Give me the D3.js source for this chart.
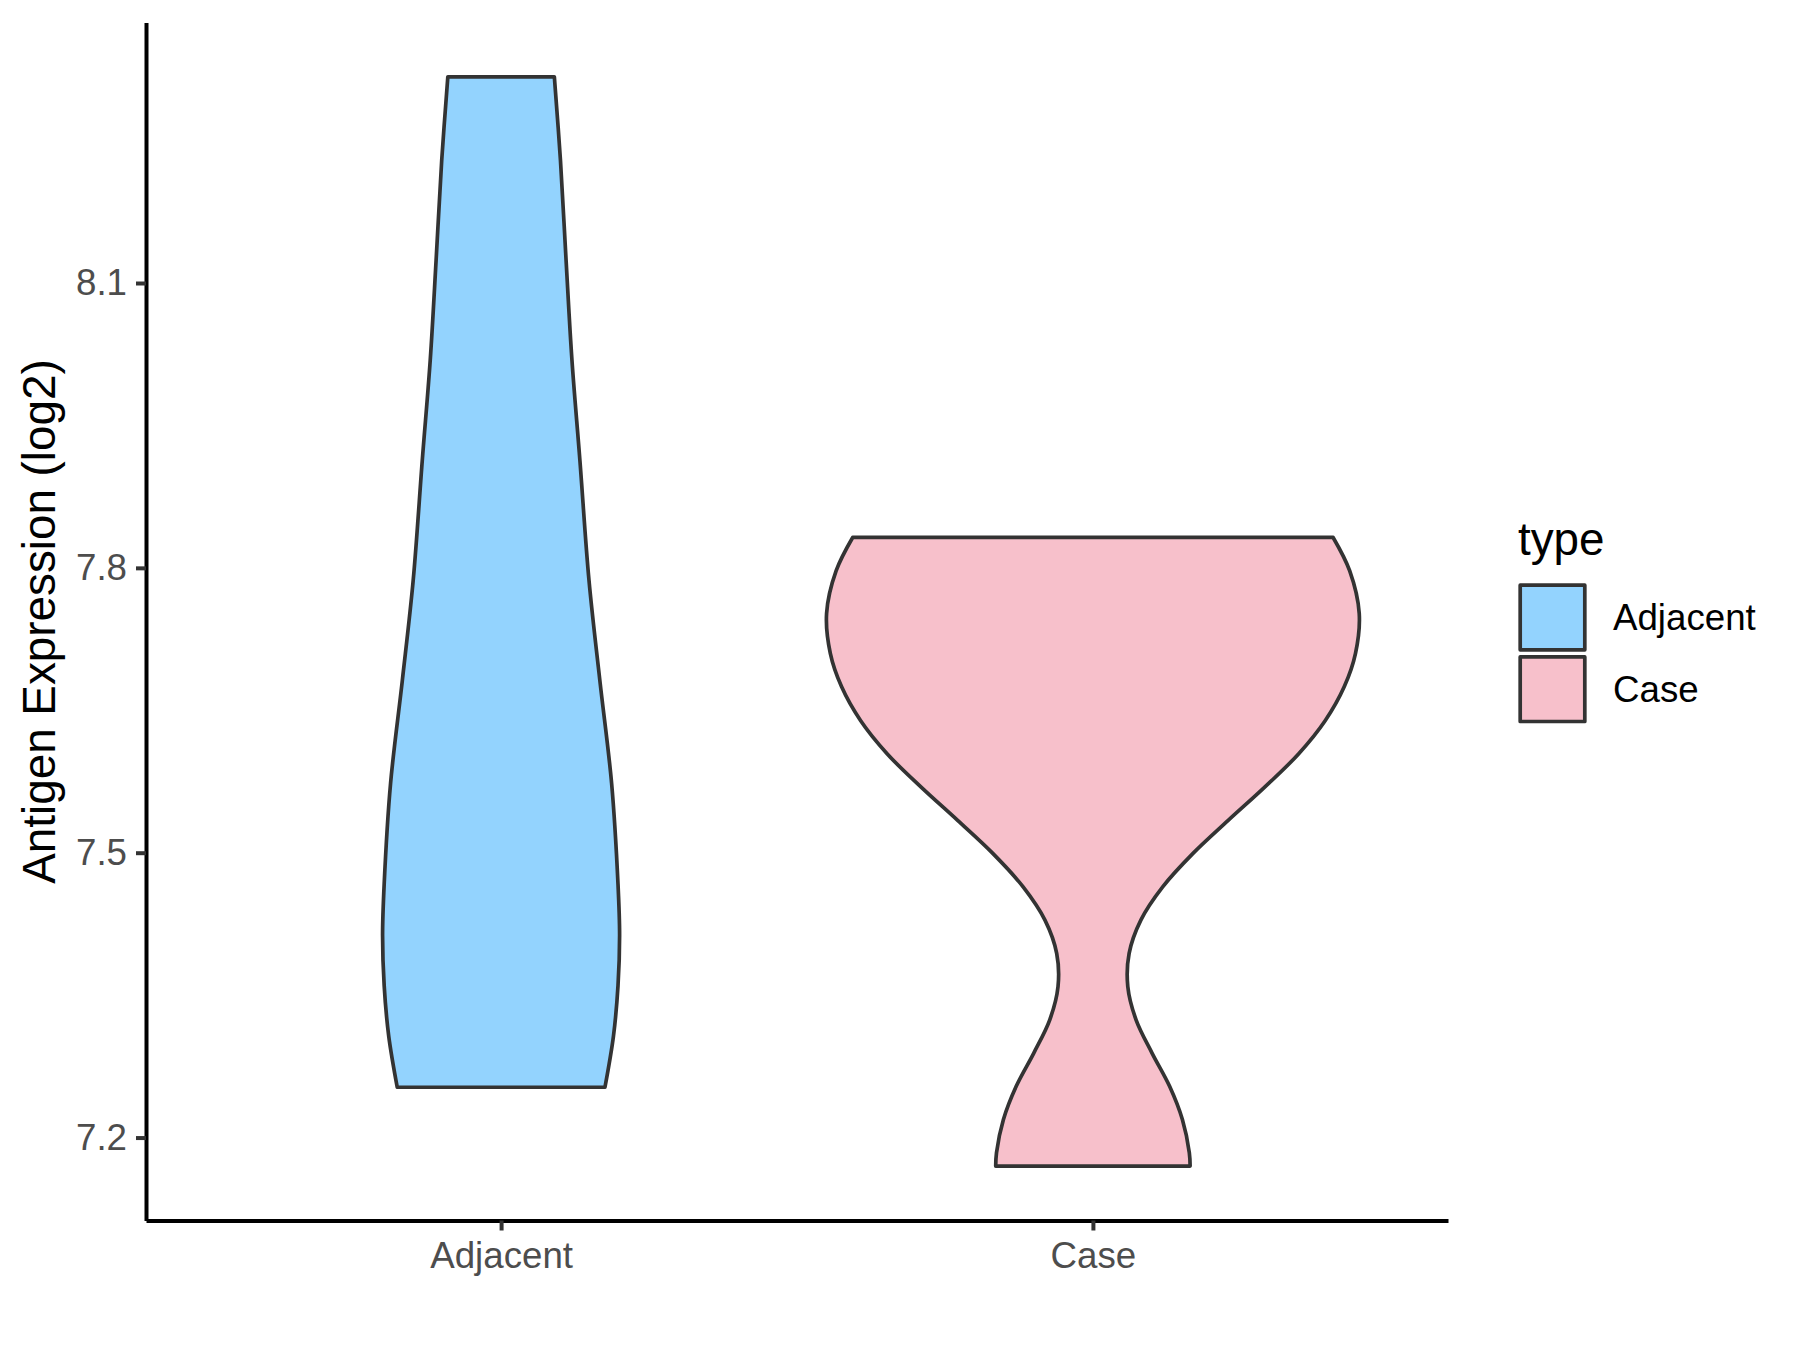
<!DOCTYPE html>
<html>
<head>
<meta charset="utf-8">
<script src="https://cdn.jsdelivr.net/npm/d3@7"></script>
<style>
    body { margin: 0; background: #fff; }
    text { font-family: "Liberation Sans", Arial, sans-serif; }
</style>
</head>
<body>
<div id="chart"></div>
<script>
// categories on the x axis
var groups = ['Adjacent', 'Case'];

// violin outlines: expression value and relative density (Case max = 1)
var adjacentExpr = [8.317, 8.229, 8.124, 8.019, 7.913, 7.787, 7.681, 7.573, 7.467, 7.413, 7.360, 7.307, 7.253];
var adjacentDensity = [0.200, 0.223, 0.244, 0.266, 0.296, 0.330, 0.371, 0.415, 0.439, 0.445, 0.439, 0.422, 0.390];

var caseExpr = [7.832, 7.797, 7.752, 7.710, 7.675, 7.639, 7.604, 7.569, 7.534, 7.499, 7.464, 7.429, 7.394, 7.359, 7.324, 7.289, 7.254, 7.219, 7.184, 7.170];
var caseDensity = [0.902, 0.964, 1.000, 0.986, 0.944, 0.872, 0.772, 0.645, 0.508, 0.375, 0.262, 0.180, 0.136, 0.131, 0.162, 0.222, 0.288, 0.336, 0.362, 0.365];

var yTicks = [7.2, 7.5, 7.8, 8.1];

var fills = ['#93D3FE', '#F7C0CB'];

var W = 1800, H = 1350;
var panel = {left: 146, right: 1448, top: 22.5, bottom: 1220.5};

var svg = d3.select('#chart').append('svg')
    .attr('width', W)
    .attr('height', H);

function toPoints(expr, dens) {
    var pts = [];
    expr.forEach(function (v, i) {
        pts.push({v: v, d: dens[i]});
    });
    return pts;
}

var violins = [
    {name: groups[0], pts: toPoints(adjacentExpr, adjacentDensity)},
    {name: groups[1], pts: toPoints(caseExpr, caseDensity)}
];

// y domain = data range + 5% each side (ggplot default)
var allVals = adjacentExpr.concat(caseExpr);
var lo = d3.min(allVals), hi = d3.max(allVals);
var pad = (hi - lo) * 0.05;

var y = d3.scaleLinear()
    .domain([lo - pad, hi + pad])
    .range([panel.bottom, panel.top]);

var x = d3.scalePoint()
    .domain(groups)
    .range([panel.left, panel.right])
    .padding(0.6);

// half width of a violin, 0.9 of a category step at full density
var w = d3.scaleLinear()
    .domain([0, 1])
    .range([0, x.step() * 0.45]);

violins.forEach(function (vio, i) {
    var cx = x(vio.name);
    var area = d3.area()
        .curve(d3.curveCatmullRom.alpha(0.5))
        .y(function (d) { return y(d.v); })
        .x0(function (d) { return cx - w(d.d); })
        .x1(function (d) { return cx + w(d.d); });

    svg.append('path')
        .datum(vio.pts)
        .attr('d', area)
        .attr('fill', fills[i])
        .attr('stroke', '#333333')
        .attr('stroke-width', 3.7)
        .attr('stroke-linejoin', 'round');
});

// axes
var yAxis = svg.append('g')
    .attr('transform', 'translate(' + panel.left + ',0)')
    .call(d3.axisLeft(y).tickValues(yTicks).tickFormat(d3.format('.1f')).tickSize(10).tickSizeOuter(0).tickPadding(9));

var xAxis = svg.append('g')
    .attr('transform', 'translate(0,' + panel.bottom + ')')
    .call(d3.axisBottom(x).tickSize(10).tickSizeOuter(0).tickPadding(11.5));

[yAxis, xAxis].forEach(function (ax) {
    ax.select('.domain').attr('stroke', '#000').attr('stroke-width', 4);
    ax.selectAll('.tick line').attr('stroke', '#333333').attr('stroke-width', 4);
    ax.selectAll('.tick text')
        .attr('fill', '#4D4D4D')
        .style('font-size', '36.7px')
        .style('font-family', '"Liberation Sans", Arial, sans-serif');
});

svg.append('text')
    .attr('transform', 'translate(55,' + ((panel.top + panel.bottom) / 2) + ') rotate(-90)')
    .attr('text-anchor', 'middle')
    .style('font-size', '45.8px')
    .attr('fill', '#000')
    .text('Antigen Expression (log2)');

// legend
var legend = svg.append('g').attr('transform', 'translate(1518,0)');

legend.append('text')
    .attr('x', 0)
    .attr('y', 555)
    .style('font-size', '45.8px')
    .attr('fill', '#000')
    .text('type');

groups.forEach(function (g, i) {
    var top = 585.2 + i * 71.7;
    legend.append('rect')
        .attr('x', 2.2)
        .attr('y', top)
        .attr('width', 64.6)
        .attr('height', 64.6)
        .attr('fill', fills[i])
        .attr('stroke', '#333333')
        .attr('stroke-width', 3.7)
        .attr('stroke-linejoin', 'round');
    legend.append('text')
        .attr('x', 95)
        .attr('y', top + 32.3 + 12.5)
        .style('font-size', '36.7px')
        .attr('fill', '#000')
        .text(g);
});
</script>
</body>
</html>
